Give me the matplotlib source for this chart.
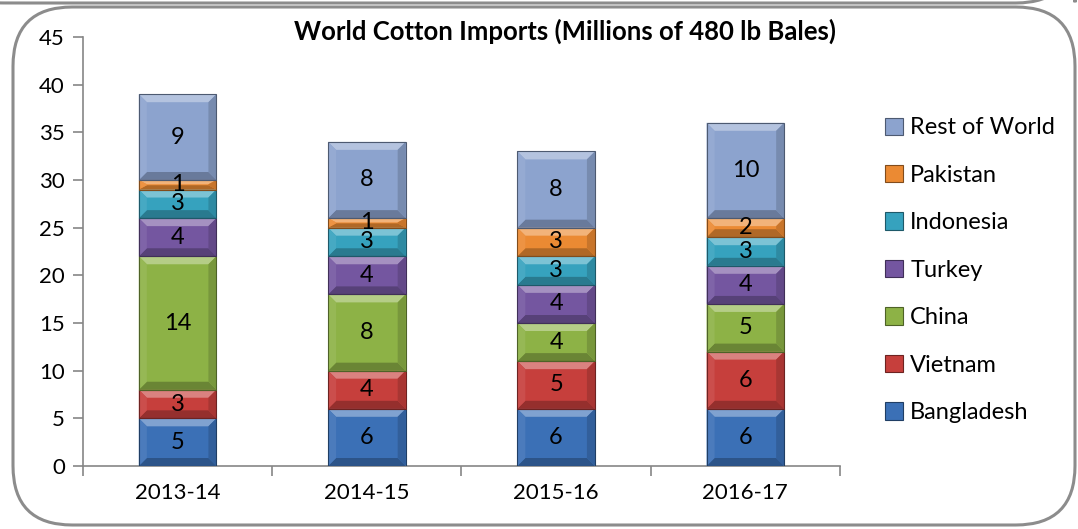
"""World cotton imports, stacked bars with Excel-style bevelled segments."""
import matplotlib
matplotlib.use("Agg")
import matplotlib.pyplot as plt
import numpy as np
from matplotlib.colors import to_rgb
from matplotlib.patches import FancyBboxPatch, Polygon, Rectangle

YEARS = ["2013-14", "2014-15", "2015-16", "2016-17"]
COUNTRIES = ["Bangladesh", "Vietnam", "China", "Turkey", "Indonesia", "Pakistan", "Rest of World"]
BANGLADESH = [5, 6, 6, 6]
VIETNAM = [3, 4, 5, 6]
CHINA = [14, 8, 4, 5]
TURKEY = [4, 4, 4, 4]
INDONESIA = [3, 3, 3, 3]
PAKISTAN = [1, 1, 3, 2]
REST = [9, 8, 8, 10]
COLORS = ["#3B70B6", "#C63F3C", "#8DB246", "#7456A0", "#36A2BE", "#EB8A33", "#8CA3CE"]

W, H, DPI = 1078, 529, 100
AX_L, AX_R, AX_B, AX_T = 83, 840, 466, 37   # pixel box of the plot area
BAR_W = 0.41
BEVEL_PX = 8

plt.rcParams.update({"font.family": ["Lato", "DejaVu Sans"], "font.size": 16})


def shade(c, f):
    r = np.array(to_rgb(c))
    return tuple(np.clip(r + (1 - r) * f, 0, 1)) if f > 0 else tuple(r * (1 + f))


def bevel_bar(ax, x, y0, h, color, bx, by):
    l, r, b, t = x - BAR_W / 2, x + BAR_W / 2, y0, y0 + h
    dy = min(by, h / 2 - 0.05)
    dx = bx
    ax.add_patch(Rectangle((l, b), r - l, h, fc=color, ec="none", zorder=2))
    faces = [
        ([(l, t), (r, t), (r - dx, t - dy), (l + dx, t - dy)], shade(color, 0.35)),
        ([(l, b), (r, b), (r - dx, b + dy), (l + dx, b + dy)], shade(color, -0.25)),
        ([(l, b), (l, t), (l + dx, t - dy), (l + dx, b + dy)], shade(color, 0.08)),
        ([(r, b), (r, t), (r - dx, t - dy), (r - dx, b + dy)], shade(color, -0.15)),
    ]
    for pts, fc in faces:
        ax.add_patch(Polygon(pts, closed=True, fc=fc, ec="none", zorder=3))
    ax.add_patch(Rectangle((l, b), r - l, h, fc="none", ec=shade(color, -0.45), lw=0.8, zorder=4))


def main() -> None:
    series = [BANGLADESH, VIETNAM, CHINA, TURKEY, INDONESIA, PAKISTAN, REST]
    fig = plt.figure(figsize=(W / DPI, H / DPI), dpi=DPI)

    # rounded chart frames (the one above is cut off by the top edge)
    fig.patches.append(FancyBboxPatch((13 / W, 4 / H), 1062 / W, 518 / H,
                                      boxstyle="round,pad=0,rounding_size=0.055",
                                      transform=fig.transFigure, fc="none", ec="#8C8C8C",
                                      lw=2.2, mutation_aspect=W / H))
    fig.patches.append(FancyBboxPatch((-30 / W, 526 / H), 1105 / W, 60 / H,
                                      boxstyle="round,pad=0,rounding_size=0.055",
                                      transform=fig.transFigure, fc="none", ec="#8C8C8C",
                                      lw=2.2, mutation_aspect=W / H))

    ax = fig.add_axes([AX_L / W, (H - AX_B) / H, (AX_R - AX_L) / W, (AX_B - AX_T) / H])
    ax.set_xlim(-0.5, len(YEARS) - 0.5)
    ax.set_ylim(0, 45)
    bx = BEVEL_PX * len(YEARS) / (AX_R - AX_L)
    by = BEVEL_PX * 45 / (AX_B - AX_T)

    x = np.arange(len(YEARS))
    bottom = np.zeros(len(YEARS))
    for vals, color in zip(series, COLORS):
        vals = np.asarray(vals, float)
        for xi, b, v in zip(x, bottom, vals):
            bevel_bar(ax, xi, b, v, color, bx, by)
            ax.text(xi, b + v / 2, f"{v:g}", ha="center", va="center", fontsize=17, zorder=5)
        bottom += vals

    ax.spines[["top", "right"]].set_visible(False)
    for s in ("left", "bottom"):
        ax.spines[s].set_color("#868686")
        ax.spines[s].set_linewidth(1.2)
    ax.set_yticks(range(0, 46, 5))
    ax.set_xticks(x, YEARS)
    ax.set_xticks(np.arange(-0.5, len(YEARS)), minor=True)
    ax.tick_params(axis="y", length=7, width=1.2, color="#868686", pad=6, labelsize=16)
    ax.tick_params(axis="x", which="major", length=0, pad=12, labelsize=16)
    ax.tick_params(axis="x", which="minor", length=7, width=1.2, color="#868686")

    fig.text(565 / W, 1 - 31 / H, "World Cotton Imports (Millions of 480 lb Bales)",
             ha="center", va="center", fontsize=18.5, fontweight="bold")

    handles = [Rectangle((0, 0), 1, 1, fc=c, ec=shade(c, -0.45), lw=0.8) for c in COLORS]
    fig.legend(handles[::-1], COUNTRIES[::-1], loc="upper left",
               bbox_to_anchor=(876 / W, 1 - 108 / H), frameon=False, fontsize=17,
               handlelength=0.75, handleheight=0.75, handletextpad=0.3, labelspacing=1.12,
               borderaxespad=0)

    fig.savefig("out.png", dpi=DPI)


if __name__ == "__main__":
    main()
